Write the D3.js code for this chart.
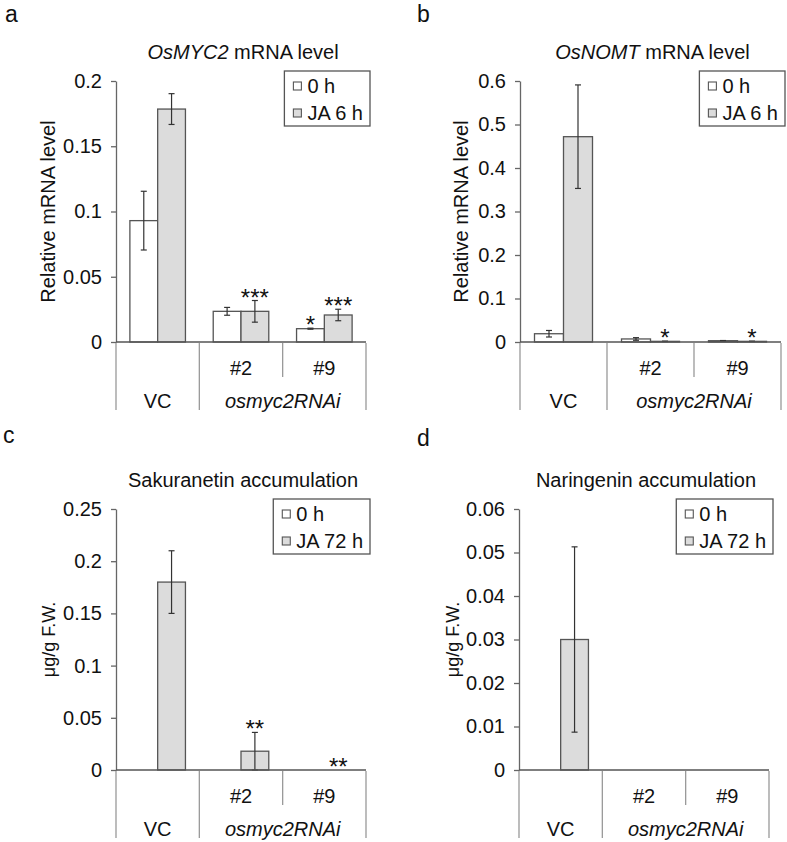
<!DOCTYPE html>
<html lang="en">
<head>
<meta charset="UTF-8">
<title>OsMYC2 RNAi panels</title>
<script src="https://cdn.jsdelivr.net/npm/d3@7"></script>
<style>
  body { margin: 0; background: #fff; }
  text { font-family: "Liberation Sans", Arial, sans-serif; fill: #111; }
</style>
</head>
<body>
<div id="container"></div>
<script>
// categories
const groups = ["VC", "#2", "#9"];
const lineName = "osmyc2RNAi";

// panel a: OsMYC2 mRNA
const mycMean0  = [0.093, 0.0235, 0.0102];
const mycErr0   = [0.0225, 0.003, 0.0004];
const mycMeanJA = [0.1785, 0.0235, 0.0207];
const mycErrJA  = [0.0118, 0.0083, 0.0044];
const mycStars0  = ["", "", "*"];
const mycStarsJA = ["", "***", "***"];
const mycTicks = [0, 0.05, 0.1, 0.15, 0.2];
const mycTickLabels = ["0", "0.05", "0.1", "0.15", "0.2"];

// panel b: OsNOMT mRNA
const nomtMean0  = [0.019, 0.007, 0.003];
const nomtErr0   = [0.0075, 0.003, 0.0004];
const nomtMeanJA = [0.472, 0.0015, 0.0015];
const nomtErrJA  = [0.119, 0.0004, 0.0004];
const nomtStars0  = ["", "", ""];
const nomtStarsJA = ["", "*", "*"];
const nomtTicks = [0, 0.1, 0.2, 0.3, 0.4, 0.5, 0.6];
const nomtTickLabels = ["0", "0.1", "0.2", "0.3", "0.4", "0.5", "0.6"];

// panel c: sakuranetin
const sakMean0  = [0, 0, 0];
const sakErr0   = [0, 0, 0];
const sakMeanJA = [0.18, 0.018, 0];
const sakErrJA  = [0.03, 0.018, 0];
const sakStars0  = ["", "", ""];
const sakStarsJA = ["", "**", "**"];
const sakTicks = [0, 0.05, 0.1, 0.15, 0.2, 0.25];
const sakTickLabels = ["0", "0.05", "0.1", "0.15", "0.2", "0.25"];

// panel d: naringenin
const narMean0  = [0, 0, 0];
const narErr0   = [0, 0, 0];
const narMeanJA = [0.03, 0, 0];
const narErrJA  = [0.0213, 0, 0];
const narStars0  = ["", "", ""];
const narStarsJA = ["", "", ""];
const narTicks = [0, 0.01, 0.02, 0.03, 0.04, 0.05, 0.06];
const narTickLabels = ["0", "0.01", "0.02", "0.03", "0.04", "0.05", "0.06"];

const svg = d3.select('#container')
    .append('svg')
    .attr('width', 787)
    .attr('height', 842);

const fs = 20; // main text size

function drawPanel(p) {
    let g = svg.append('g');

    let x = d3.scaleBand().domain(groups).range([p.x0, p.x1]);
    let inner = d3.scaleBand().domain(["0", "JA"]).range([0, x.bandwidth()]).paddingOuter(0.5);
    let y = d3.scaleLinear().domain([0, p.max]).range([p.y0, p.yTop]);

    // panel letter
    g.append('text').attr('x', p.lx).attr('y', p.ly)
        .style('font-size', '23px').text(p.letter);

    // title
    let title = g.append('text')
        .attr('x', (p.x0 + p.x1) / 2 + 2)
        .attr('y', p.yTop - 22)
        .attr('text-anchor', 'middle')
        .style('font-size', fs + 'px');
    if (p.titleItalic) {
        title.append('tspan').style('font-style', 'italic').text(p.titleItalic);
    }
    title.append('tspan').text(p.title);

    // y label
    g.append('text')
        .attr('transform', 'translate(' + (p.x0 - p.ylOff) + ',' + ((p.yTop + p.y0) / 2) + ') rotate(-90)')
        .attr('text-anchor', 'middle')
        .style('font-size', p.ylSize + 'px')
        .text(p.ylabel);

    // y axis
    let ax = g.append('g')
        .attr('transform', 'translate(' + p.x0 + ',0)')
        .call(d3.axisLeft(y).tickValues(p.ticks)
            .tickFormat((d, i) => p.tickLabels[i])
            .tickSize(5).tickSizeOuter(0).tickPadding(9));
    ax.select('.domain').attr('stroke', '#666').attr('stroke-width', 1.3);
    ax.selectAll('.tick line').attr('stroke', '#666').attr('stroke-width', 1.3);
    ax.selectAll('.tick text')
        .style('font-size', fs + 'px')
        .style('font-family', '"Liberation Sans", Arial, sans-serif')
        .attr('fill', '#111');

    // bars
    let series = [
        {key: "0", mean: p.mean0, err: p.err0, stars: p.stars0, fill: "#ffffff"},
        {key: "JA", mean: p.meanJA, err: p.errJA, stars: p.starsJA, fill: "#dcdcdc"}
    ];
    series.forEach(s => {
        groups.forEach((grp, i) => {
            let v = s.mean[i];
            let bx = x(grp) + inner(s.key);
            let cx = bx + inner.bandwidth() / 2;
            if (v > 0) {
                g.append('rect')
                    .attr('x', bx).attr('width', inner.bandwidth())
                    .attr('y', y(v)).attr('height', y(0) - y(v))
                    .attr('fill', s.fill)
                    .attr('stroke', '#555').attr('stroke-width', 1.3);
            }
            let e = s.err[i];
            if (e > 0) {
                let top = y(v + e), bot = y(Math.max(0, v - e));
                g.append('line').attr('x1', cx).attr('x2', cx).attr('y1', top).attr('y2', bot)
                    .attr('stroke', '#333').attr('stroke-width', 1.2);
                g.append('line').attr('x1', cx - 3).attr('x2', cx + 3).attr('y1', top).attr('y2', top)
                    .attr('stroke', '#333').attr('stroke-width', 1.2);
                g.append('line').attr('x1', cx - 3).attr('x2', cx + 3).attr('y1', bot).attr('y2', bot)
                    .attr('stroke', '#333').attr('stroke-width', 1.2);
            }
            if (s.stars[i]) {
                g.append('text')
                    .attr('x', cx).attr('y', y(v + e) + 5)
                    .attr('text-anchor', 'middle')
                    .style('font-size', '24px')
                    .text(s.stars[i]);
            }
        });
    });

    // x axis line
    g.append('line')
        .attr('x1', p.x0).attr('x2', p.x1).attr('y1', y(0)).attr('y2', y(0))
        .attr('stroke', '#555').attr('stroke-width', 1.5);

    // category table lines
    [p.x0, x("#2"), p.x1].forEach(xx => {
        g.append('line').attr('x1', xx).attr('x2', xx)
            .attr('y1', y(0) + 1).attr('y2', y(0) + 68)
            .attr('stroke', '#999').attr('stroke-width', 1.3);
    });
    g.append('line').attr('x1', x("#9")).attr('x2', x("#9"))
        .attr('y1', y(0) + 1).attr('y2', y(0) + 35)
        .attr('stroke', '#999').attr('stroke-width', 1.3);

    // category labels
    ["#2", "#9"].forEach(grp => {
        g.append('text')
            .attr('x', x(grp) + x.bandwidth() / 2).attr('y', y(0) + 33)
            .attr('text-anchor', 'middle').style('font-size', fs + 'px').text(grp);
    });
    g.append('text')
        .attr('x', x("VC") + x.bandwidth() / 2).attr('y', y(0) + 66)
        .attr('text-anchor', 'middle').style('font-size', fs + 'px').text("VC");
    g.append('text')
        .attr('x', (x("#2") + p.x1) / 2).attr('y', y(0) + 66)
        .attr('text-anchor', 'middle').style('font-size', fs + 'px')
        .style('font-style', 'italic').text(lineName);

    // legend
    let lg = g.append('g');
    let labels = ["0 h", p.jaLabel];
    let texts = labels.map((t, i) => lg.append('text')
        .attr('y', p.yTop + 5 + i * 27).attr('dy', '0.35em')
        .style('font-size', fs + 'px').text(t));
    let tw = d3.max(texts, t => t.node().getComputedTextLength());
    let bw = tw + 30;
    let lx = p.x1 + 4 - bw;
    lg.insert('rect', 'text')
        .attr('x', lx).attr('y', p.yTop - 10)
        .attr('width', bw).attr('height', 55)
        .attr('fill', '#fff').attr('stroke', '#555').attr('stroke-width', 1.3);
    texts.forEach(t => t.attr('x', lx + 23));
    ["#ffffff", "#dcdcdc"].forEach((c, i) => {
        lg.append('rect')
            .attr('x', lx + 9).attr('y', p.yTop + 1 + i * 27)
            .attr('width', 8).attr('height', 8)
            .attr('fill', c).attr('stroke', '#555').attr('stroke-width', 1.1);
    });
}

drawPanel({letter: "a", lx: 5, ly: 22, x0: 116, x1: 366, yTop: 81, y0: 342, max: 0.2,
    ticks: mycTicks, tickLabels: mycTickLabels,
    titleItalic: "OsMYC2", title: " mRNA level",
    ylabel: "Relative mRNA level", ylOff: 61, ylSize: fs,
    mean0: mycMean0, err0: mycErr0, meanJA: mycMeanJA, errJA: mycErrJA,
    stars0: mycStars0, starsJA: mycStarsJA, jaLabel: "JA 6 h"});

drawPanel({letter: "b", lx: 417, ly: 22, x0: 520, x1: 781, yTop: 81, y0: 342, max: 0.6,
    ticks: nomtTicks, tickLabels: nomtTickLabels,
    titleItalic: "OsNOMT", title: " mRNA level",
    ylabel: "Relative mRNA level", ylOff: 52, ylSize: fs,
    mean0: nomtMean0, err0: nomtErr0, meanJA: nomtMeanJA, errJA: nomtErrJA,
    stars0: nomtStars0, starsJA: nomtStarsJA, jaLabel: "JA 6 h"});

drawPanel({letter: "c", lx: 3, ly: 443, x0: 116, x1: 366, yTop: 509, y0: 770, max: 0.25,
    ticks: sakTicks, tickLabels: sakTickLabels,
    titleItalic: "", title: "Sakuranetin accumulation",
    ylabel: "μg/g F.W.", ylOff: 61, ylSize: 18,
    mean0: sakMean0, err0: sakErr0, meanJA: sakMeanJA, errJA: sakErrJA,
    stars0: sakStars0, starsJA: sakStarsJA, jaLabel: "JA 72 h"});

drawPanel({letter: "d", lx: 417, ly: 446, x0: 519, x1: 769, yTop: 509, y0: 770, max: 0.06,
    ticks: narTicks, tickLabels: narTickLabels,
    titleItalic: "", title: "Naringenin accumulation",
    ylabel: "μg/g F.W.", ylOff: 60, ylSize: 18,
    mean0: narMean0, err0: narErr0, meanJA: narMeanJA, errJA: narErrJA,
    stars0: narStars0, starsJA: narStarsJA, jaLabel: "JA 72 h"});
</script>
</body>
</html>
